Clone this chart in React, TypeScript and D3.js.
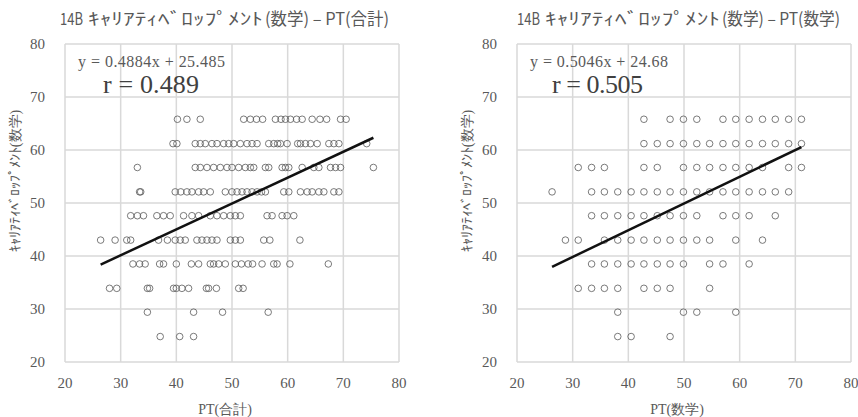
import React from "react";
import * as d3 from "d3";

// y levels of キャリアディベロップメント(数学)
const careerLevels = [24.8, 29.4, 33.9, 38.5, 43.0, 47.6, 52.1, 56.7, 61.2, 65.8];

// PT(合計): x values, one list per career level
const totalRows: number[][] = [
  [37.1, 40.6, 43.1],
  [34.8, 43.1, 48.3, 56.5],
  [28.0, 29.3, 34.8, 35.2, 39.5, 40.0, 41.0, 42.2, 45.4, 45.8, 47.2, 51.2, 52.0],
  [32.2, 33.4, 34.4, 37.0, 37.7, 40.0, 42.7, 44.0, 46.1, 46.7, 47.6, 48.8, 50.6, 51.7, 52.9, 53.7, 55.4, 57.5, 58.1, 60.4, 67.3],
  [26.4, 29.0, 31.1, 31.8, 36.8, 38.4, 39.8, 40.7, 41.6, 43.7, 44.6, 45.5, 46.4, 47.3, 49.7, 50.6, 51.5, 55.7, 56.8, 62.2],
  [31.8, 33.0, 34.1, 36.5, 37.7, 38.9, 41.3, 42.8, 44.0, 46.1, 47.3, 48.5, 49.7, 50.6, 51.5, 56.3, 57.2, 59.0, 59.9, 61.1],
  [33.4, 33.6, 39.8, 40.8, 41.9, 42.8, 44.0, 44.9, 46.1, 48.8, 50.0, 50.9, 51.8, 52.7, 53.6, 54.5, 55.3, 56.0, 59.3, 60.2, 62.3, 63.5, 64.4, 65.6, 66.5, 68.3, 69.2],
  [33.0, 43.4, 44.3, 45.5, 46.7, 47.9, 49.1, 50.0, 51.2, 52.4, 53.3, 53.9, 56.0, 56.6, 59.0, 59.6, 60.2, 62.6, 64.7, 65.6, 67.7, 68.6, 69.5, 75.4],
  [39.4, 40.1, 43.4, 44.3, 45.2, 46.4, 47.3, 48.5, 49.4, 50.3, 51.5, 52.7, 53.6, 54.5, 56.6, 57.5, 58.2, 58.7, 59.9, 61.8, 62.3, 63.2, 64.1, 65.3, 67.4, 68.3, 69.2, 74.2],
  [40.2, 41.9, 44.3, 52.1, 53.3, 54.4, 55.5, 57.8, 58.8, 59.6, 60.5, 61.6, 62.6, 64.4, 65.8, 67.0, 69.5, 70.5],
];

// PT(数学): x values, one list per career level
const mathRows: number[][] = [
  [38.1, 40.5, 47.5],
  [38.1, 49.9, 52.3, 59.3],
  [31.0, 33.4, 35.7, 38.1, 42.8, 45.2, 47.5, 54.6],
  [33.4, 35.7, 38.1, 40.5, 42.8, 45.2, 47.5, 49.9, 54.6, 57.0, 61.7],
  [28.7, 31.0, 35.7, 38.1, 40.5, 42.8, 45.2, 47.5, 49.9, 52.3, 54.6, 59.3, 64.1],
  [33.4, 35.7, 38.1, 40.5, 42.8, 45.2, 47.5, 49.9, 52.3, 57.0, 59.3, 61.7, 66.4],
  [26.3, 33.4, 35.7, 38.1, 40.5, 42.8, 45.2, 47.5, 49.9, 52.3, 54.6, 57.0, 59.3, 61.7, 64.1, 66.4, 68.8],
  [31.0, 33.4, 35.7, 42.8, 45.2, 49.9, 52.3, 54.6, 57.0, 59.3, 61.7, 64.1, 68.8, 71.1],
  [42.8, 45.2, 47.5, 49.9, 52.3, 54.6, 57.0, 59.3, 61.7, 64.1, 66.4, 68.8, 71.1],
  [42.8, 47.5, 49.9, 52.3, 57.0, 59.3, 61.7, 64.1, 66.4, 68.8, 71.1],
];

const titleHead = "14B";
const titleKana = "ｷｬﾘｱﾃｨﾍﾞﾛｯﾌﾟﾒﾝﾄ";
const titleTails = ["(数学) – PT(合計)", "(数学) – PT(数学)"];
const xTitles = ["PT(合計)", "PT(数学)"];
const yTitle = "ｷｬﾘｱﾃｨﾍﾞﾛｯﾌﾟﾒﾝﾄ(数学)";
const slopes = [0.4884, 0.5046];
const intercepts = [25.485, 24.68];
const equations = ["y = 0.4884x + 25.485", "y = 0.5046x + 24.68"];
const rLabels = ["r = 0.489", "r = 0.505"];
const xTicks = [20, 30, 40, 50, 60, 70, 80];
const yTicks = [20, 30, 40, 50, 60, 70, 80];

const GREY = "#595959";
const GRID = "#d9d9d9";
const SERIF = "'Liberation Serif', 'Times New Roman', serif";
const SANS = "'Noto Sans CJK JP', 'Noto Sans', sans-serif";

// text placement measured on the reference
const titleX = [60, 517];
const eqWidths = [147, 138];
const rWidths = [96, 91];
const tailWidths = [124, 118];

interface PanelProps {
  rows: number[][];
  idx: number;
  left: number;
}

const Panel: React.FC<PanelProps> = ({ rows, idx, left }) => {
  const top = 44;
  const bottom = 362;
  const right = left + 334;
  const x = d3.scaleLinear().domain([20, 80]).range([left, right]);
  const y = d3.scaleLinear().domain([20, 80]).range([bottom, top]);

  const points = rows.flatMap((xs, j) => xs.map((v) => [v, careerLevels[j]] as [number, number]));
  const [xMin, xMax] = d3.extent(points, (p) => p[0]) as [number, number];
  const fit = (v: number) => slopes[idx] * v + intercepts[idx];
  const line = d3
    .line<number>()
    .x((v) => x(v))
    .y((v) => y(fit(v)));

  const tx = titleX[idx];
  return (
    <g>
      {/* title in three pieces so the half-width kana get their wide look */}
      <text x={tx} y={25} fontFamily={SANS} fontSize={17} fill={GREY}
        textLength={23} lengthAdjust="spacingAndGlyphs">{titleHead}</text>
      <text x={tx + 28} y={25} fontFamily={SANS} fontSize={17} fill={GREY}
        textLength={175} lengthAdjust="spacingAndGlyphs">{titleKana}</text>
      <text x={tx + 205} y={25} fontFamily={SANS} fontSize={17} fill={GREY}
        textLength={tailWidths[idx]} lengthAdjust="spacingAndGlyphs">{titleTails[idx]}</text>

      {xTicks.map((t) => (
        <line key={"gx" + t} x1={x(t)} x2={x(t)} y1={top} y2={bottom} stroke={GRID} strokeWidth={1.5} />
      ))}
      {yTicks.map((t) => (
        <line key={"gy" + t} x1={left} x2={right} y1={y(t)} y2={y(t)} stroke={GRID} strokeWidth={1.5} />
      ))}
      {xTicks.map((t) => (
        <text key={"tx" + t} x={x(t)} y={383} textAnchor="middle" dominantBaseline="central"
          fontFamily={SERIF} fontSize={15} fill={GREY}>
          {t}
        </text>
      ))}
      {yTicks.map((t) => (
        <text key={"ty" + t} x={left - 20} y={y(t)} textAnchor="end" dominantBaseline="central"
          fontFamily={SERIF} fontSize={15} fill={GREY}>
          {t}
        </text>
      ))}
      {points.map((p, i) => (
        <circle key={i} cx={x(p[0])} cy={y(p[1])} r={3.3} fill="none" stroke="#595959" strokeWidth={0.8} />
      ))}
      <path d={line([xMin, xMax]) ?? ""} fill="none" stroke="#111" strokeWidth={2.5} />
      <text x={left + 13} y={67} fontFamily={SERIF} fontSize={16} fill={GREY}
        textLength={eqWidths[idx]} lengthAdjust="spacing">
        {equations[idx]}
      </text>
      <text x={left + 38 - idx * 3} y={93} fontFamily={SERIF} fontSize={26} fill="#404040"
        textLength={rWidths[idx]} lengthAdjust="spacing">
        {rLabels[idx]}
      </text>
      <text x={left + 160} y={409} textAnchor="middle" dominantBaseline="central"
        fontFamily={SERIF} fontSize={14} fill={GREY}>
        {xTitles[idx]}
      </text>
      <text transform={`translate(${left - 50},181) rotate(-90)`} textAnchor="middle" dominantBaseline="central"
        fontFamily={SERIF} fontSize={14} fill={GREY}>
        {yTitle}
      </text>
    </g>
  );
};

export default function App() {
  return (
    <svg width={858} height={417} style={{ position: "absolute", left: 0, top: 0, background: "#fff" }}>
      <rect width={858} height={417} fill="#fff" />
      <Panel rows={totalRows} idx={0} left={65} />
      <Panel rows={mathRows} idx={1} left={517} />
    </svg>
  );
}
